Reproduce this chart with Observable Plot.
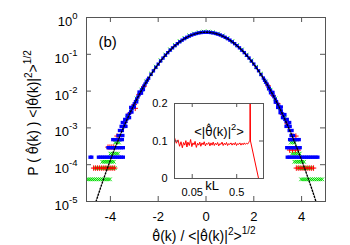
<!DOCTYPE html>
<html><head><meta charset="utf-8">
<script src="https://cdn.jsdelivr.net/npm/d3@7"></script>
<script src="https://cdn.jsdelivr.net/npm/@observablehq/plot@0.6"></script>
<style>
body{margin:0;background:#fff;}
#wrap{position:relative;width:350px;height:245px;overflow:hidden;}
#wrap svg{position:absolute;left:0;top:0;}
</style></head><body><div id="wrap"></div>
<script>
const FONT = "'Liberation Sans', Arial, Helvetica, sans-serif";

// ---------- main panel ----------
const xTicks = [-4, -2, 0, 2, 4];
const yTicks = [1, 1e-1, 1e-2, 1e-3, 1e-4, 1e-5];
const yTickExp = ["0", "-1", "-2", "-3", "-4", "-5"];

// Gaussian reference (black dotted)
const gaussX = [-5,-4.8,-4.6,-4.4,-4.2,-4,-3.8,-3.6,-3.4,-3.2,-3,-2.8,-2.6,-2.4,-2.2,-2,-1.8,-1.6,-1.4,-1.2,-1,-0.8,-0.6,-0.4,-0.2,0,
  0.2,0.4,0.6,0.8,1,1.2,1.4,1.6,1.8,2,2.2,2.4,2.6,2.8,3,3.2,3.4,3.6,3.8,4,4.2,4.4,4.6,4.8,5];
const gaussY = [1.49e-6,3.97e-6,1.01e-5,2.50e-5,5.89e-5,1.34e-4,2.92e-4,6.12e-4,1.23e-3,2.38e-3,4.43e-3,7.92e-3,0.0136,0.0224,0.0355,0.0540,0.0790,0.1109,0.1497,0.1942,0.2420,0.2897,0.3332,0.3683,0.3910,0.3989,
  0.3910,0.3683,0.3332,0.2897,0.2420,0.1942,0.1497,0.1109,0.0790,0.0540,0.0355,0.0224,0.0136,7.92e-3,4.43e-3,2.38e-3,1.23e-3,6.12e-4,2.92e-4,1.34e-4,5.89e-5,2.50e-5,1.01e-5,3.97e-6,1.49e-6];

// blue series (body)
const blueX = [-3.45,-3.4,-3.35,-3.3,-3.25,-3.2,-3.15,-3.1,-3.05,-3,-2.95,-2.9,-2.85,-2.8,-2.75,-2.7,-2.65,-2.6,-2.55,-2.5,-2.45,-2.4,-2.3,-2.2,-2.1,-2,-1.9,-1.8,-1.7,-1.6,-1.5,-1.4,-1.3,-1.2,-1.1,-1,-0.9,-0.8,-0.7,-0.6,-0.5,-0.4,-0.3,-0.2,-0.1,0,
  0.1,0.2,0.3,0.4,0.5,0.6,0.7,0.8,0.9,1,1.1,1.2,1.3,1.4,1.5,1.6,1.7,1.8,1.9,2,2.1,2.2,2.3,2.4,2.45,2.5,2.55,2.6,2.65,2.7,2.75,2.8,2.85,2.9,2.95,3,3.05,3.1,3.15,3.2,3.25,3.3,3.35,3.4,3.45];
const blueY = [0.00108,0.00128,0.00150,0.00178,0.00205,0.00246,0.00283,0.00335,0.00388,0.00452,0.00520,0.00603,0.00690,0.00800,0.00915,0.0105,0.0119,0.0137,0.0155,0.0176,0.0199,0.0224,0.0284,0.0355,0.0441,0.0540,0.0657,0.0789,0.0941,0.1108,0.1296,0.1496,0.1715,0.1941,0.2180,0.2419,0.2662,0.2896,0.3124,0.3331,0.3522,0.3682,0.3815,0.3909,0.3971,0.3988,
  0.3969,0.3911,0.3812,0.3685,0.3519,0.3334,0.3121,0.2899,0.2659,0.2422,0.2177,0.1944,0.1712,0.1499,0.1293,0.1111,0.0938,0.0792,0.0654,0.0542,0.0438,0.0357,0.0282,0.0226,0.0197,0.0174,0.0156,0.0135,0.0120,0.0103,0.0092,0.0078,0.0070,0.0059,0.0052,0.0044,0.0039,0.0032,0.0029,0.0024,0.0021,0.0017,0.0015,0.0012,0.0011];
// blue scatter around the steep flanks
const blueScatterX = [-3.5,-3.4,-3.35,-3.3,-3.2,-3.15,-3.1,-3.0,-2.9,-2.8,-2.7,-2.62, 2.62,2.7,2.8,2.9,3.0,3.1,3.15,3.2,3.3,3.35,3.4,3.5];
const blueScatterY = [0.0014,0.0017,0.0011,0.0022,0.0019,0.0036,0.0027,0.0037,0.0051,0.0094,0.0088,0.0110, 0.0115,0.0090,0.0092,0.0050,0.0036,0.0026,0.0037,0.0019,0.0023,0.0011,0.0017,0.0014];
// blue tails: [level, x positions]
const blueTails = [
  [1.1e-3, [-3.55, 3.52]], [8.5e-4, [-3.62, -3.5, 3.6, 3.48]], [6.2e-4, [-3.68, -3.58, -3.48, 3.66, 3.56]],
  [4.8e-4, [-3.9,-3.82,-3.74,-3.66,-3.58,-3.5, 3.5,3.58,3.66,3.74,3.82,3.9]],
  [2.9e-4, [-4.1,-4.02,-3.94,-3.86,-3.78,-3.7,-3.62,-3.54,-3.46, 3.38,3.46,3.54,3.62,3.7,3.78,3.86,3.94]],
  [1.6e-4, [-4.85,-4.78,-4.5,-4.42,-4.34,-4.26,-4.18,-4.1,-4.02,-3.94,-3.86,-3.78,-3.7,-3.62,-3.54,-3.46,
            3.4,3.48,3.56,3.64,3.72,3.8,3.88,3.96,4.04,4.12,4.2,4.28,4.36,4.44,4.52,4.6,4.68]]
];

// green series
const greenX = [-3.3,-3.1,-2.9,-2.7,-2.5,-2.3,-2.1,-1.9,-1.7,-1.5,-1.3,-1.1,-0.9,-0.7,-0.5,-0.3,-0.1,0.1,0.3,0.5,0.7,0.9,1.1,1.3,1.5,1.7,1.9,2.1,2.3,2.5,2.7,2.9,3.1,3.3];
const greenY = [0.0019,0.0035,0.0063,0.0110,0.0184,0.0298,0.0462,0.0690,0.0985,0.1360,0.1790,0.2280,0.2780,0.3260,0.3660,0.3970,0.4140,0.4130,0.3960,0.3660,0.3250,0.2770,0.2270,0.1780,0.1350,0.0980,0.0685,0.0460,0.0296,0.0183,0.0109,0.0063,0.0035,0.0019];
const greenTails = [
  [4.0e-4, [-3.8,-3.72,-3.64, 3.55,3.63,3.71]],
  [2.0e-4, [-4.0,-3.92,-3.84,-3.76,-3.68, 3.6,3.68,3.76,3.84,3.92]],
  [1.2e-4, [-4.34,-4.26,-4.18,-4.1,-4.02,-3.94,-3.86, 3.7,3.78,3.86,3.94,4.02,4.1]],
  [8.1e-5, [-4.62,-4.54,-4.46,-4.38,-4.3,-4.22,-4.14,-4.06,-3.98,-3.9,-3.82, 3.9,3.98,4.06,4.14,4.22,4.3,4.38]],
  [4.0e-5, [-4.98,-4.9,-4.82,-4.74,-4.66,-4.58,-4.5,-4.42,-4.34,-4.26,-4.18,-4.1,-4.02, 3.98,4.06,4.14,4.22,4.3,4.38,4.46,4.54,4.62,4.7,4.78,4.86]]
];

// red series
const redX = [-3.4,-3.2,-3.0,-2.96,-2.8,-2.6,2.6,2.8,3.0,3.2,3.4];
const redY = [0.0014,0.0025,0.0043,0.0034,0.0081,0.0133,0.0139,0.0077,0.0046,0.0023,0.0013];
const redTails = [
  [6.0e-4, [-3.72, 3.64,3.76]],
  [3.0e-4, [-4.1,-4.02,-3.94,-3.86]],
  [2.5e-4, [3.5,3.62,3.74,3.86]],
  [8.1e-5, [-4.7,-4.62,-4.54,-4.46,-4.38,-4.3,-4.22,-4.14,-4.06,-3.98,-3.9,-3.82, 3.78,3.86,3.94,4.02,4.1,4.18,4.26,4.34,4.42,4.5]]
];

// ---------- inset ----------
const insetXTicks = [0.05, 0.5];
const insetYTicks = [0, 0.1, 0.2];
const kL = [0.020,0.022,0.024,0.026,0.028,0.030,0.032,0.034,0.036,0.038,
  0.040,0.043,0.046,0.049,0.052,0.055,0.058,0.062,0.066,0.070,
  0.074,0.078,0.083,0.088,0.093,0.099,0.105,0.111,0.118,0.125,
  0.132,0.140,0.148,0.157,0.166,0.176,0.186,0.197,0.209,0.221,
  0.234,0.248,0.263,0.278,0.295,0.312,0.330,0.350,0.371,0.393,
  0.416,0.441,0.467,0.495,0.524,0.555,0.588,0.623,0.660,0.699,
  0.740,0.784,0.830,0.880,0.930,0.960,0.990,1.000,1.020,1.550,2.000];
const spec = [0.109,0.094,0.103,0.086,0.098,0.082,0.096,0.089,0.101,0.084,
  0.097,0.088,0.104,0.085,0.095,0.090,0.099,0.083,0.094,0.089,
  0.097,0.086,0.095,0.090,0.098,0.087,0.094,0.091,0.096,0.087,
  0.095,0.089,0.097,0.088,0.094,0.090,0.096,0.087,0.093,0.091,
  0.097,0.088,0.094,0.090,0.096,0.088,0.093,0.091,0.095,0.089,
  0.094,0.090,0.096,0.088,0.093,0.091,0.095,0.089,0.094,0.090,
  0.095,0.091,0.094,0.092,0.096,0.099,0.102,0.360,0.100,0.000,0.000];

// ---------- build tables ----------
const zip = (xs, ys) => xs.map((x, i) => ({x, y: ys[i]}));
const flatTails = t => t.flatMap(([lvl, xs]) => xs.map(x => ({x, y: lvl})));
const gauss = zip(gaussX, gaussY);
const blue = zip(blueX, blueY).concat(zip(blueScatterX, blueScatterY), flatTails(blueTails));
const green = zip(greenX, greenY).concat(flatTails(greenTails));
const red = zip(redX, redY).concat(flatTails(redTails));
const inset = zip(kL, spec);

const FRAME = "#555";
const wrap = document.getElementById("wrap");

// main frame: left 86, right 325, top 17, bottom 201
const main = Plot.plot({
  width: 350, height: 245,
  marginLeft: 86, marginRight: 25, marginTop: 17, marginBottom: 44,
  style: {fontFamily: FONT, fontSize: "13px", background: "transparent", color: "black"},
  x: {domain: [-5, 5]},
  y: {type: "log", domain: [1e-5, 1]},
  marks: [
    Plot.dot(green, {x: "x", y: "y", symbol: "times", r: 1.8, stroke: "#00dd00", strokeWidth: 1, clip: true}),
    Plot.dot(red, {x: "x", y: "y", symbol: "plus", r: 1.9, stroke: "#ff0000", strokeWidth: 1, clip: true}),
    Plot.dot(blue, {x: "x", y: "y", symbol: "square", r: 1.9, fill: "#0000ff", stroke: "none", clip: true}),
    Plot.line(gauss, {x: "x", y: "y", stroke: "#000", strokeWidth: 1.4, strokeDasharray: "1.4,1.8", clip: true}),
    Plot.frame({stroke: FRAME}),
    // inward mirrored ticks
    Plot.tickX(xTicks, {x: d => d, stroke: FRAME, insetTop: 179}),
    Plot.tickX(xTicks, {x: d => d, stroke: FRAME, insetBottom: 179}),
    Plot.tickY(yTicks, {y: d => d, stroke: FRAME, insetRight: 234}),
    Plot.tickY(yTicks, {y: d => d, stroke: FRAME, insetLeft: 234}),
    Plot.axisX(xTicks, {anchor: "bottom", tickSize: 0, tickPadding: 10, fontSize: 13, label: null, tickFormat: d => String(d)}),
    Plot.axisY(yTicks, {anchor: "left", tickSize: 0, tickPadding: 9, fontSize: 13, dy: 4.3, label: null,
      tickFormat: d => "10^" + yTickExp[yTicks.indexOf(d)]}),
    Plot.text(["(b)"], {frameAnchor: "top-left", dx: 12, dy: 19, textAnchor: "start", fontSize: 15})
  ]
});
wrap.appendChild(main);

// inset frame: left 174, right 263, top 103, bottom 178
const insetPlot = Plot.plot({
  width: 350, height: 245,
  marginLeft: 174, marginRight: 87, marginTop: 103, marginBottom: 67,
  style: {fontFamily: FONT, fontSize: "11px", background: "transparent", color: "black"},
  x: {type: "log", domain: [0.02, 2], axis: null},
  y: {domain: [0, 0.2], axis: null},
  marks: [
    Plot.line(inset, {x: "x", y: "y", stroke: "#ff0000", strokeWidth: 1, clip: true}),
    Plot.frame({stroke: FRAME}),
    Plot.tickX(insetXTicks, {x: d => d, stroke: FRAME, insetTop: 71}),
    Plot.tickX(insetXTicks, {x: d => d, stroke: FRAME, insetBottom: 71}),
    Plot.tickY(insetYTicks, {y: d => d, stroke: FRAME, insetRight: 85}),
    Plot.tickY(insetYTicks, {y: d => d, stroke: FRAME, insetLeft: 85}),
    Plot.text(insetXTicks, {x: d => d, frameAnchor: "bottom", dy: 17, fontSize: 11, text: d => String(d)}),
    Plot.text(insetYTicks, {y: d => d, frameAnchor: "left", dx: -7, textAnchor: "end", fontSize: 11, text: d => String(d)})
  ]
});
wrap.appendChild(insetPlot);

// superscript tick labels on the main y axis
const NS = "http://www.w3.org/2000/svg";
main.querySelectorAll('g[aria-label="y-axis tick label"] text').forEach(t => {
  const s = t.textContent;
  if (!s.includes("^")) return;
  const [b, e] = s.split("^");
  t.textContent = "";
  const t1 = document.createElementNS(NS, "tspan"); t1.textContent = b; t.appendChild(t1);
  const t2 = document.createElementNS(NS, "tspan"); t2.textContent = e;
  t2.setAttribute("dy", "-7"); t2.setAttribute("font-size", "9.5"); t.appendChild(t2);
});

// rich text: parts = [string, raise]; "θ̂" set in DejaVu Sans so the combining hat sits over θ
function richText(svg, {x, y, rotate = 0, size, parts, anchor = "middle"}) {
  const t = d3.select(svg).append("text")
    .attr("transform", `translate(${x},${y})` + (rotate ? ` rotate(${rotate})` : ""))
    .attr("text-anchor", anchor).attr("font-family", FONT).attr("font-size", size).attr("fill", "black");
  let cur = 0;
  const add = (s, raise, fs, fam) => {
    const target = -raise;
    const sp = t.append("tspan").attr("dy", target - cur).attr("font-size", fs).text(s);
    if (fam) sp.attr("font-family", fam);
    cur = target;
    return sp;
  };
  for (const [s, raise] of parts) {
    const fs = raise ? size * 0.72 : size;
    const pieces = s.split("\u03B8\u0302");
    pieces.forEach((p, i) => {
      if (i > 0) add("\u03B8\u0302", raise, fs * 0.92, "'DejaVu Sans'");
      if (p) add(p, raise, fs);
    });
  }
}
const TH = "\u03B8\u0302";
richText(main, {x: 204, y: 241, size: 14, parts: [[TH + "(k) / <|" + TH + "(k)|", 0], ["2", 6], [">", 0], ["1/2", 7]]});
richText(main, {x: 38, y: 113, rotate: -90, size: 14, parts: [["P ( " + TH + "(k) ) <|" + TH + "(k)|", 0], ["2", 6], [">", 0], ["1/2", 7]]});
richText(insetPlot, {x: 219, y: 136, size: 13, parts: [["<|" + TH + "(k)|", 0], ["2", 6], [">", 0]]});
richText(insetPlot, {x: 212, y: 190, size: 13, parts: [["kL", 0]]});
</script></body></html>
